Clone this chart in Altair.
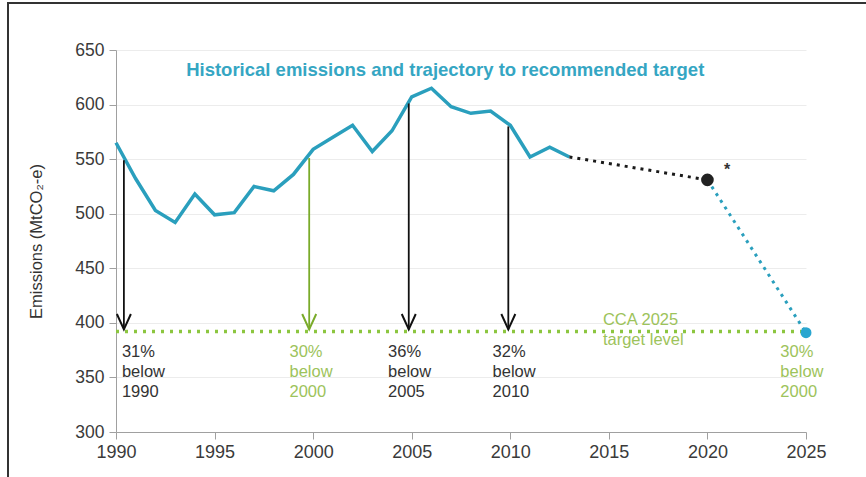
import altair as alt
import pandas as pd

# Historical emissions (MtCO2-e)
years = list(range(1990, 2014))
emissions = [565, 532, 503, 492, 518, 499, 501, 525, 521, 536, 559, 570, 581, 557,
             576, 607, 615, 598, 592, 594, 581, 552, 561, 552]

# Projection and trajectory
proj_years = [2013, 2020]
proj_values = [552, 531]
traj_years = [2020, 2025]
traj_values = [531, 391]
target_level = 392
target_span = [1990, 2025]

# Reduction arrows
arrow_years = [1990.4, 1999.8, 2004.85, 2009.9]
arrow_tops = [549, 551, 601, 580]
arrow_colors = ["#111111", "#7aab2a", "#111111", "#111111"]

# Annotation labels
label_texts = ["31%\nbelow\n1990", "30%\nbelow\n2000", "36%\nbelow\n2005",
               "32%\nbelow\n2010", "30%\nbelow\n2000"]
label_years = [1990.3, 1998.8, 2003.8, 2009.1, 2023.7]
label_values = [381, 381, 381, 381, 381]
label_colors = ["#333333", "#9dc35b", "#333333", "#333333", "#9dc35b"]

cca_text = "CCA 2025\ntarget level"
cca_year = 2014.7
cca_value = 410

title_text = "Historical emissions  and trajectory to recommended target"
title_year = 2006.7
title_value = 632

star_year = 2021.0
star_value = 540

FONT = "Liberation Sans"

hist = pd.DataFrame({"year": years, "value": emissions})
proj = pd.DataFrame({"year": proj_years, "value": proj_values})
traj = pd.DataFrame({"year": traj_years, "value": traj_values})
target = pd.DataFrame({"year": target_span, "value": [target_level] * 2})
arrows = pd.DataFrame({"year": arrow_years, "top": arrow_tops, "bottom": [target_level + 2] * 4,
                       "color": arrow_colors})
labels = pd.DataFrame({"year": label_years, "value": label_values, "text": label_texts,
                       "color": label_colors})

xscale = alt.Scale(domain=[1990, 2025], nice=False, zero=False)
yscale = alt.Scale(domain=[300, 650], nice=False, zero=False)

X = alt.X("year:Q", scale=xscale,
          axis=alt.Axis(values=list(range(1990, 2026, 5)), format="d", title=None, grid=False,
                        labelFlush=False))
Y = alt.Y("value:Q", scale=yscale,
          axis=alt.Axis(values=list(range(300, 651, 50)), title="Emissions (MtCO₂-e)",
                        labelFlush=False))

frame = alt.Chart(pd.DataFrame({"a": [0]})).mark_rect(
    fill=None, stroke="#333333", strokeWidth=2
).encode(x=alt.value(-108), x2=alt.value(780), y=alt.value(-47), y2=alt.value(460))

target_line = alt.Chart(target).mark_line(
    color="#8cc63f", strokeWidth=3.5, strokeDash=[3, 6]
).encode(x=X, y=Y)

hist_line = alt.Chart(hist).mark_line(color="#2a9fbd", strokeWidth=3.5).encode(x=X, y=Y)

proj_line = alt.Chart(proj).mark_line(
    color="#1a1a1a", strokeWidth=3, strokeDash=[3, 5]
).encode(x=X, y=Y)

traj_line = alt.Chart(traj).mark_line(
    color="#2a9fbd", strokeWidth=3, strokeDash=[3, 5]
).encode(x=X, y=Y)

arrow_rules = alt.Chart(arrows).mark_rule(strokeWidth=1.8).encode(
    x="year:Q", y=alt.Y("top:Q", scale=yscale), y2="bottom:Q",
    color=alt.Color("color:N", scale=None)
)

arrow_heads = alt.Chart(arrows).mark_point(
    shape="M-1,-2.2L0,0L1,-2.2", filled=False, strokeWidth=2, size=196, opacity=1
).encode(
    x="year:Q", y=alt.Y("bottom:Q", scale=yscale),
    color=alt.Color("color:N", scale=None)
)

dot_black = alt.Chart(pd.DataFrame({"year": [proj_years[1]], "value": [proj_values[1]]})).mark_circle(
    size=160, color="#222222", opacity=1
).encode(x=X, y=Y)

dot_blue = alt.Chart(pd.DataFrame({"year": [traj_years[1]], "value": [traj_values[1]]})).mark_circle(
    size=120, color="#2aa6d0", opacity=1
).encode(x=X, y=Y)

label_layer = alt.Chart(labels).mark_text(
    align="left", baseline="top", font=FONT, fontSize=16.5, lineHeight=20, lineBreak="\n"
).encode(x=X, y=Y, text="text:N", color=alt.Color("color:N", scale=None))

cca_layer = alt.Chart(pd.DataFrame({"year": [cca_year], "value": [cca_value], "text": [cca_text]})).mark_text(
    align="left", baseline="top", font=FONT, fontSize=16.5, lineHeight=20, lineBreak="\n",
    color="#9dc35b"
).encode(x=X, y=Y, text="text:N")

title_layer = alt.Chart(pd.DataFrame({"year": [title_year], "value": [title_value], "text": [title_text]})).mark_text(
    align="center", baseline="middle", font=FONT, fontSize=18.5, fontWeight="bold", color="#35a6c3"
).encode(x=X, y=Y, text="text:N")

star_layer = alt.Chart(pd.DataFrame({"year": [star_year], "value": [star_value], "text": ["*"]})).mark_text(
    align="center", baseline="middle", font=FONT, fontSize=16, fontWeight="bold", color="#333333"
).encode(x=X, y=Y, text="text:N")

chart = alt.layer(
    frame, target_line, hist_line, proj_line, traj_line, arrow_rules, arrow_heads,
    dot_black, dot_blue, label_layer, cca_layer, title_layer, star_layer
).properties(
    width=690, height=382, autosize="none",
    padding={"left": 116, "top": 50, "right": 60, "bottom": 45},
    background="white"
).configure_view(stroke=None).configure_axis(
    labelFont=FONT, titleFont=FONT, domainColor="#a0a0a0", tickColor="#a0a0a0",
    labelColor="#3a3a3a", titleColor="#333333", gridColor="#ececec", tickSize=7
).configure_axisY(
    labelFontSize=17.5, labelPadding=5, titleFontSize=16.5, titleFontWeight="normal",
    titlePadding=30
).configure_axisX(
    labelFontSize=18, labelPadding=4
)

chart.save("out.html", embed_options={"renderer": "svg", "actions": False})
